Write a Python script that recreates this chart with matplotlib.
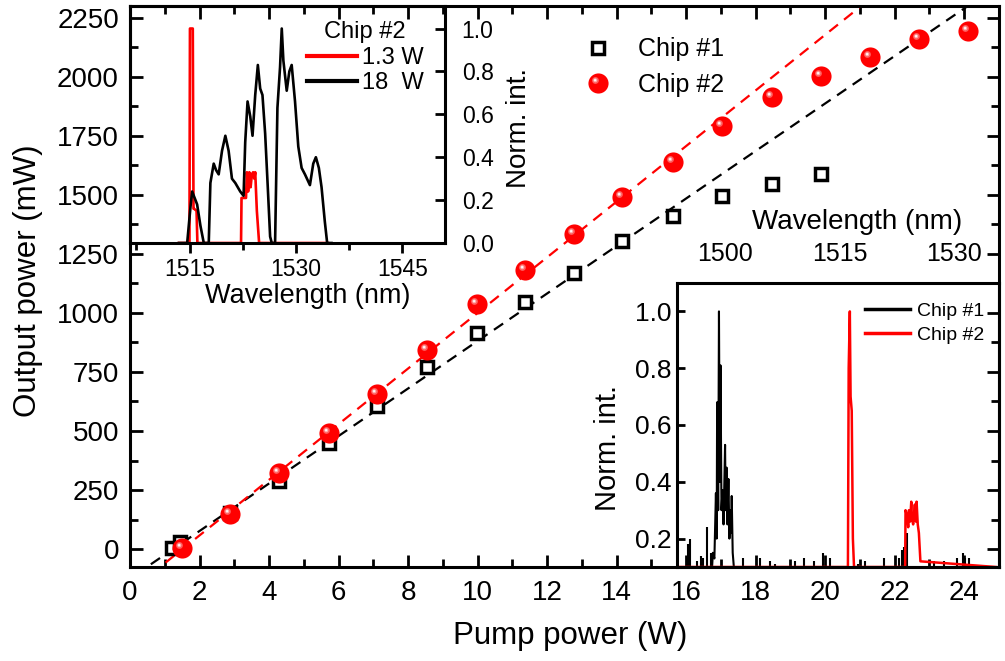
import matplotlib
matplotlib.use('Agg')
import matplotlib.pyplot as plt
from matplotlib.path import Path
from matplotlib.legend_handler import HandlerTuple
from matplotlib.ticker import MultipleLocator

plt.rcParams['font.family'] = ['Liberation Sans', 'DejaVu Sans']
plt.rcParams['axes.linewidth'] = 2.2

# main panel: output power vs pump power
pump1 = [1.20, 1.45, 2.88, 4.28, 5.72, 7.10, 8.55, 9.99, 11.37, 12.78, 14.16, 15.62, 17.03, 18.47, 19.89]
out1 = [5, 28, 153, 290, 450, 607, 772, 917, 1048, 1171, 1303, 1409, 1494, 1545, 1587]
pump2 = [1.50, 2.88, 4.28, 5.72, 7.10, 8.55, 9.99, 11.37, 12.78, 14.16, 15.62, 17.03, 18.47, 19.89, 21.30, 22.70, 24.10]
out2 = [4, 150, 322, 492, 658, 845, 1036, 1184, 1333, 1490, 1638, 1791, 1914, 2003, 2084, 2160, 2194]

# linear fits: slope (mW/W), threshold (W), x start, x end
fit1 = [100.6, 1.24, 0.6, 24.3]
fit2 = [117.8, 1.51, 0.6, 22.0]

# top-left inset: chip #2 spectra at two pump powers
wl_13 = [1513.5, 1514.98, 1515.05, 1515.45, 1515.55, 1515.62, 1515.98, 1516.1, 1522.25, 1522.32, 1522.95,
         1523.08, 1523.25, 1523.42, 1523.6, 1523.78, 1523.95, 1524.12, 1524.25, 1524.48, 1524.8, 1534.5]
int_13 = [0, 0, 1.0, 1.0, 0.16, 0.16, 0.15, 0, 0, 0.21, 0.21,
          0.33, 0.24, 0.33, 0.26, 0.32, 0.33, 0.3, 0.33, 0.15, 0, 0]
wl_18 = [1513.5, 1514.66, 1515.13, 1515.36, 1515.83, 1516.06, 1516.53, 1517.0, 1517.7, 1517.93, 1518.4,
         1518.73, 1519.1, 1519.57, 1520.04, 1520.5, 1520.97, 1521.44, 1522.14, 1522.61, 1522.84, 1523.17,
         1523.55, 1523.87, 1524.25, 1524.62, 1524.95, 1525.27, 1525.65, 1526.02, 1526.35, 1526.58, 1527.05,
         1527.38, 1527.75, 1527.99, 1528.22, 1528.69, 1529.06, 1529.39, 1529.86, 1530.32, 1530.79, 1531.26,
         1531.96, 1532.43, 1532.8, 1533.22, 1533.6, 1534.06, 1534.39, 1535.0]
int_18 = [0, 0, 0.17, 0.24, 0.2, 0.18, 0.08, 0, 0, 0.28, 0.37,
          0.34, 0.32, 0.43, 0.5, 0.43, 0.3, 0.28, 0.24, 0.22, 0.47, 0.66,
          0.59, 0.5, 0.69, 0.83, 0.72, 0.69, 0.51, 0.26, 0.03, 0, 0,
          0.63, 0.82, 1.0, 0.85, 0.71, 0.8, 0.83, 0.66, 0.45, 0.35, 0.32,
          0.27, 0.37, 0.4, 0.35, 0.26, 0.1, 0, 0]

# bottom-right inset: chip #1 / chip #2 spectra
c1_wl = [1498.3, 1498.4, 1498.6, 1498.8, 1498.9, 1498.96, 1499.1, 1499.2, 1499.3, 1499.4, 1499.53, 1499.66,
         1499.8, 1500.0, 1500.08, 1500.2, 1500.31, 1500.44, 1500.57, 1500.7, 1500.8, 1500.87, 1501.0, 1501.15]
c1_int = [0.1, 0.15, 0.13, 0.36, 0.2, 0.68, 0.3, 1.0, 0.4, 0.81, 0.3, 0.37,
          0.25, 0.53, 0.3, 0.45, 0.25, 0.41, 0.2, 0.3, 0.22, 0.35, 0.15, 0.1]
c1_spike_wl = [1494.95, 1495.2, 1495.45, 1496.3, 1496.9, 1497.05, 1497.65, 1498.15, 1502.4, 1504.6,
               1505.9, 1506.6, 1509.2, 1510.4, 1511.6, 1512.8, 1513.8, 1517.4, 1518.35, 1520.8,
               1522.8, 1523.2, 1523.45, 1523.9, 1527.4, 1528.7, 1530.4, 1531.2, 1531.5, 1532.0]
c1_spike_h = [0.13, 0.18, 0.2, 0.12, 0.14, 0.13, 0.24, 0.15, 0.13, 0.13,
              0.12, 0.11, 0.12, 0.13, 0.12, 0.15, 0.13, 0.11, 0.12, 0.13,
              0.13, 0.16, 0.17, 0.22, 0.12, 0.12, 0.13, 0.15, 0.13, 0.13]
c2_wl = [1493.8, 1516.1, 1516.2, 1516.35, 1516.45, 1516.6, 1516.75, 1516.9, 1523.6, 1523.65, 1523.87, 1524.0,
         1524.1, 1524.25, 1524.4, 1524.5, 1524.65, 1524.87, 1525.0, 1525.1, 1525.25, 1525.4, 1525.6, 1535.5]
c2_int = [0.1, 0.1, 0.8, 1.0, 0.7, 0.65, 0.2, 0.1, 0.1, 0.3, 0.28, 0.24,
          0.3, 0.26, 0.33, 0.27, 0.25, 0.32, 0.26, 0.33, 0.25, 0.22, 0.12, 0.1]

W, H = 1005, 661
fig = plt.figure(figsize=(W / 100, H / 100), dpi=100)
ax = fig.add_axes([130 / W, 1 - 567 / H, 869 / W, 561 / H])


def spot(a, r):
    # small off-centre circle used as a highlight marker on the red balls
    return Path.circle((-a, a), r)


M = 14.5
for name, fit in (('k', fit1), ('r', fit2)):
    slope, xth, x0, x1 = fit
    ax.plot([x0, x1], [slope * (x0 - xth), slope * (x1 - xth)], color=name, ls=(0, (5, 3.5)), lw=1.6, zorder=2)

sq, = ax.plot(pump1, out1, ls='none', marker='s', ms=8, mfc='white', mec='black', mew=2.5, zorder=3)
balls = [ax.plot(pump2, out2, ls='none', marker='o', ms=M, mfc='#ff0000', mec='none', zorder=4)[0]]
for a, r, c in ((0.15, 0.17, '#ff5c5c'), (0.16, 0.1, '#ffb0b0'), (0.17, 0.05, '#ffffff')):
    balls.append(ax.plot(pump2, out2, ls='none', marker=spot(a, r), ms=2 * (a + r) * M,
                         mfc=c, mec='none', zorder=5)[0])

ax.set_xlim(0, 25)
ax.set_ylim(-76, 2300)
ax.xaxis.set_major_locator(MultipleLocator(2))
ax.xaxis.set_minor_locator(MultipleLocator(1))
ax.yaxis.set_major_locator(MultipleLocator(250))
ax.yaxis.set_minor_locator(MultipleLocator(125))
ax.tick_params(which='both', direction='in', top=True, right=True, width=2, labelsize=20)
ax.tick_params(which='major', length=9)
ax.tick_params(which='minor', length=6)
ax.tick_params(axis='x', pad=9)
ax.tick_params(axis='y', pad=8)
ax.set_xlabel('Pump power (W)', fontsize=22.5)
ax.set_ylabel('Output power (mW)', fontsize=22.5)
ax.xaxis.set_label_coords(0.506, -0.097)
ax.yaxis.set_label_coords(-0.1, 0.51)

ax.legend([sq, tuple(balls)], ['Chip #1', 'Chip #2'], handler_map={tuple: HandlerTuple(ndivide=1, pad=0)},
          loc='center left', bbox_to_anchor=(585 / W, 1 - 67 / H), bbox_transform=fig.transFigure,
          frameon=False, fontsize=18, numpoints=1, handlelength=1.0, handletextpad=1.1,
          borderpad=0, borderaxespad=0, labelspacing=0.45)

# top-left inset
ins1 = fig.add_axes([130 / W, 1 - 243 / H, 315 / W, 237 / H])
ins1.set_facecolor('none')
ins1.plot(wl_13, int_13, color='#ff0000', lw=1.9, label='1.3 W')
ins1.plot(wl_18, int_18, color='black', lw=1.9, label='18  W')
ins1.set_xlim(1506.6, 1551.0)
ins1.set_ylim(0, 1.105)
ins1.xaxis.set_major_locator(MultipleLocator(15))
ins1.xaxis.set_minor_locator(MultipleLocator(7.5))
ins1.yaxis.set_major_locator(MultipleLocator(0.2))
ins1.yaxis.tick_right()
ins1.yaxis.set_label_position('right')
ins1.yaxis.set_major_formatter('{x:.1f}')
ins1.tick_params(axis='x', which='both', direction='out', bottom=True, top=False, width=2, labelsize=16.5, pad=4)
ins1.tick_params(axis='x', which='major', length=7)
ins1.tick_params(axis='x', which='minor', length=5)
ins1.tick_params(axis='y', direction='in', left=False, right=True, length=7, width=2, labelsize=16.5, pad=12)
ins1.set_xlabel('Wavelength (nm)', fontsize=19.5)
ins1.set_ylabel('Norm. int.', fontsize=20)
ins1.xaxis.set_label_coords(0.565, -0.17)
ins1.yaxis.set_label_coords(1.195, 0.485)
leg1 = ins1.legend(title='Chip #2', loc='upper right', bbox_to_anchor=(0.97, 0.985), frameon=False, fontsize=17,
                   title_fontsize=17, handlelength=2.15, handletextpad=0.2, borderpad=0, labelspacing=0.15)
for ln in leg1.get_lines():
    ln.set_linewidth(3)

# bottom-right inset
ins2 = fig.add_axes([677 / W, 1 - 567 / H, 322 / W, 284 / H])
ins2.set_facecolor('none')
ins2.plot(c1_wl, c1_int, color='black', lw=1.5, label='Chip #1')
ins2.vlines(c1_spike_wl, 0.1, c1_spike_h, color='black', lw=1.5)
ins2.plot(c2_wl, c2_int, color='#ff0000', lw=1.8, label='Chip #2')
ins2.set_xlim(1493.7, 1535.9)
ins2.set_ylim(0.1, 1.1)
ins2.xaxis.set_major_locator(MultipleLocator(15))
ins2.yaxis.set_major_locator(MultipleLocator(0.2))
ins2.yaxis.set_major_formatter('{x:.1f}')
ins2.xaxis.tick_top()
ins2.xaxis.set_label_position('top')
ins2.tick_params(axis='x', length=0, labelsize=18, pad=12)
ins2.tick_params(axis='y', direction='in', right=False, length=6, width=2, labelsize=19, pad=4)
ins2.set_xlabel('Wavelength (nm)', fontsize=20)
ins2.set_ylabel('Norm. int.', fontsize=21)
ins2.xaxis.set_label_coords(0.559, 1.19)
ins2.yaxis.set_label_coords(-0.17, 0.42)
leg2 = ins2.legend(loc='upper right', bbox_to_anchor=(0.985, 0.965), frameon=False, fontsize=14,
                   handlelength=2.3, handletextpad=0.36, borderpad=0, labelspacing=0.3)
for ln in leg2.get_lines():
    ln.set_linewidth(2.5)

fig.savefig('out.png', dpi=100)
